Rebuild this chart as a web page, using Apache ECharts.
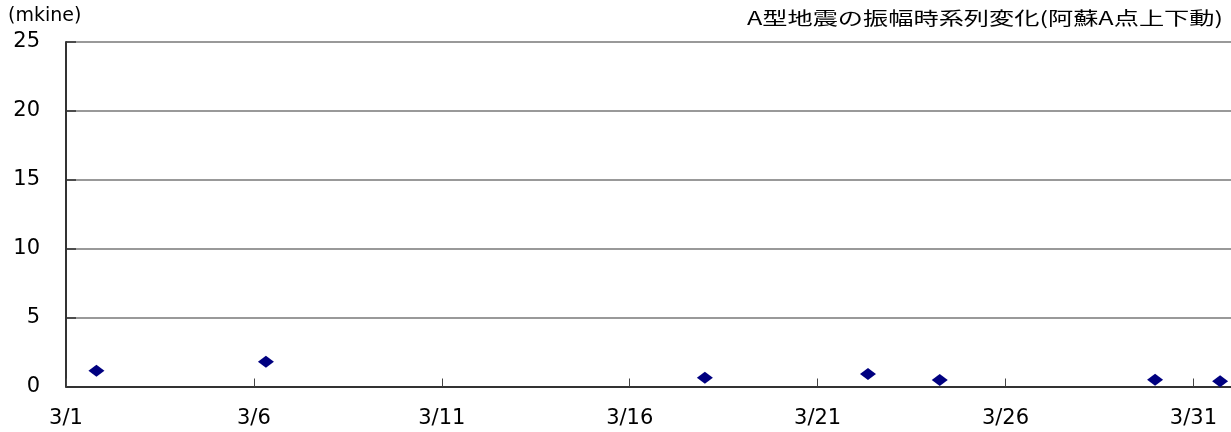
<!DOCTYPE html>
<html>
<head>
<meta charset="utf-8">
<script src="https://cdn.jsdelivr.net/npm/echarts@6/dist/echarts.min.js"></script>
<style>html,body{margin:0;padding:0;background:#fff;}#c{width:1231px;height:432px;}</style>
</head>
<body>
<div id="c"></div>
<script>
// Days elapsed since 3/1 00:00
const dayOffsets = [0.81, 5.32, 17.0, 21.34, 23.25, 28.98, 30.71];
// Amplitude (mkine)
const amplitudes = [1.15, 1.8, 0.64, 0.9, 0.47, 0.49, 0.38];
const xTickValues = [0, 5, 10, 15, 20, 25, 30];
const xTickLabels = ['3/1', '3/6', '3/11', '3/16', '3/21', '3/26', '3/31'];
const titleText = 'A型地震の振幅時系列変化(阿蘇A点上下動)';
const unitText = '(mkine)';

const chart = echarts.init(document.getElementById('c'));
chart.setOption({
  animation: false,
  backgroundColor: '#fff',
  graphic: [
    {
      type: 'text', x: 8, y: 16, scaleX: 1.0,
      style: { text: unitText, fontFamily: 'DejaVu Sans', fontSize: 19, fill: '#000', textAlign: 'left', textVerticalAlign: 'middle' }
    },
    {
      type: 'text', x: 1223, y: 18, scaleX: 1.4,
      style: { text: titleText, fontFamily: 'Noto Sans CJK JP', fontSize: 18, fill: '#000', textAlign: 'right', textVerticalAlign: 'middle' }
    }
  ],
  grid: { left: 66, top: 42, right: -4, bottom: 45.5, containLabel: false },
  xAxis: {
    type: 'value', min: 0, max: 31, interval: 5,
    axisLine: { show: true, lineStyle: { color: '#333', width: 2 } },
    axisTick: { show: true, inside: true, length: 8, lineStyle: { color: '#444', width: 1 }, customValues: xTickValues },
    axisLabel: {
      customValues: xTickValues,
      formatter: v => xTickLabels[xTickValues.indexOf(v)] || '',
      fontFamily: 'DejaVu Sans', fontSize: 21, color: '#000', margin: 22
    },
    splitLine: { show: false }
  },
  yAxis: {
    type: 'value', min: 0, max: 25, interval: 5,
    axisLine: { show: true, lineStyle: { color: '#333', width: 2 } },
    axisTick: { show: true, inside: true, length: 10, lineStyle: { color: '#333', width: 1.5 } },
    axisLabel: { fontFamily: 'DejaVu Sans', fontSize: 21, color: '#000', margin: 26 },
    splitLine: { show: true, lineStyle: { color: '#777', width: 1.5 } }
  },
  series: [{
    type: 'scatter',
    symbol: 'diamond',
    symbolSize: [16, 12],
    itemStyle: { color: '#000080', opacity: 1 },
    data: dayOffsets.map((d, i) => [d, amplitudes[i]])
  }]
});
</script>
</body>
</html>
